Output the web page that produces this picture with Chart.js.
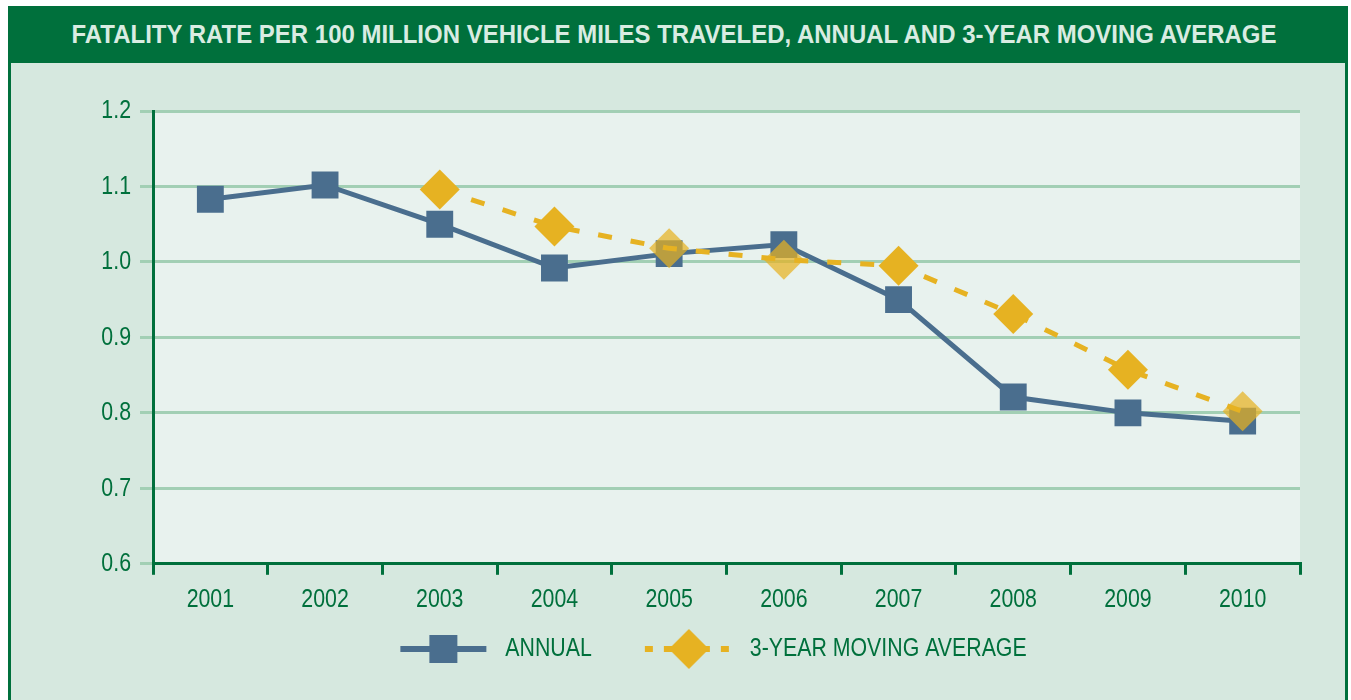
<!DOCTYPE html>
<html>
<head>
<meta charset="utf-8">
<script src="https://cdn.jsdelivr.net/npm/chart.js@4/dist/chart.umd.min.js"></script>
<style>
  body { margin: 0; background: #ffffff; }
  #frame {
    position: absolute; left: 8px; top: 6px; width: 1340px; height: 694px;
    box-sizing: border-box; border-left: 3px solid #00703c; border-right: 3px solid #00703c;
    background: #d6e8df;
  }
  #title {
    height: 57px; background: #00703c; margin: 0 -3px;
    position: relative; overflow: hidden;
  }
  #title span {
    position: absolute; left: 50%; top: 0; line-height: 57px; white-space: nowrap;
    font-family: 'Liberation Sans', Arial, sans-serif; font-weight: bold; font-size: 26.5px;
    color: #d9ece2;
  }
  #wrap { position: relative; width: 1334px; height: 637px; }
</style>
</head>
<body>
<div id="frame">
  <div id="title"><span id="titleText">FATALITY RATE PER 100 MILLION VEHICLE MILES TRAVELED, ANNUAL AND 3-YEAR MOVING AVERAGE</span></div>
  <div id="wrap"><canvas id="myChart"></canvas></div>
</div>
<script>
var years = ['2001', '2002', '2003', '2004', '2005', '2006', '2007', '2008', '2009', '2010'];
var annual = [1.083, 1.102, 1.050, 0.992, 1.011, 1.023, 0.950, 0.821, 0.800, 0.789];
var movingAvg = [null, null, 1.096, 1.047, 1.018, 1.003, 0.995, 0.931, 0.857, 0.802];
var yTicks = [0.6, 0.7, 0.8, 0.9, 1.0, 1.1, 1.2];

var darkGreen = '#00703c';
var blue = '#4a6e8e';
var gold = '#e6b222';
var goldSoft = 'rgba(230,178,34,0.72)';
var font = "'Liberation Sans', Arial, sans-serif";
var squeeze = 0.82; // condensed look for the chart text

// title: squeeze the bold text to the width of the original bar text
var t = document.getElementById('titleText');
var tw = t.getBoundingClientRect().width;
t.style.transform = 'translateX(-50%) scaleX(' + (1205 / tw) + ')';
t.style.marginLeft = '-4px';

// canvas text drawn horizontally condensed
var canvas = document.getElementById('myChart');
var ctx2 = canvas.getContext('2d');
var origFill = ctx2.fillText.bind(ctx2);
var origMeasure = ctx2.measureText.bind(ctx2);
ctx2.fillText = function (txt, x, y) {
    ctx2.save();
    ctx2.translate(x, y);
    ctx2.scale(squeeze, 1);
    origFill(txt, 0, 0);
    ctx2.restore();
};
ctx2.measureText = function (txt) {
    var m = origMeasure(txt);
    return { width: m.width * squeeze, actualBoundingBoxAscent: m.actualBoundingBoxAscent, actualBoundingBoxDescent: m.actualBoundingBoxDescent };
};

// legend swatches: line with marker, with blank room on the left for item spacing
function swatch(kind) {
    var c = document.createElement('canvas');
    c.width = 133; c.height = 44;
    var g = c.getContext('2d');
    var x0 = 41;
    g.lineWidth = 6;
    if (kind === 'annual') {
        g.strokeStyle = blue;
        g.beginPath(); g.moveTo(x0, 22); g.lineTo(x0 + 86, 22); g.stroke();
        g.fillStyle = blue;
        g.fillRect(x0 + 29, 8, 28, 28);
    } else {
        g.strokeStyle = gold;
        g.setLineDash([8, 11]);
        g.beginPath(); g.moveTo(x0, 22); g.lineTo(x0 + 88, 22); g.stroke();
        g.fillStyle = gold;
        g.beginPath();
        g.moveTo(x0 + 44, 2); g.lineTo(x0 + 64, 22); g.lineTo(x0 + 44, 42); g.lineTo(x0 + 24, 22);
        g.closePath(); g.fill();
    }
    return c;
}

var plotBg = {
    id: 'plotBg',
    beforeDraw: function (chart) {
        var a = chart.chartArea, ctx = chart.ctx;
        ctx.save();
        ctx.fillStyle = '#e8f2ee';
        ctx.fillRect(a.left, a.top, a.right - a.left, a.bottom - a.top);
        ctx.restore();
    }
};

var pointColors = movingAvg.map(function (v, i) {
    return (i === 4 || i === 5 || i === 9) ? goldSoft : gold;
});

new Chart(canvas, {
    type: 'line',
    data: {
        labels: years,
        datasets: [
            {
                label: 'ANNUAL',
                data: annual,
                borderColor: blue,
                backgroundColor: blue,
                borderWidth: 5,
                pointStyle: 'rect',
                pointRadius: 19,
                pointHoverRadius: 19,
                pointBorderWidth: 0,
                tension: 0,
                order: 2
            },
            {
                label: '3-YEAR MOVING AVERAGE',
                data: movingAvg,
                borderColor: gold,
                backgroundColor: pointColors,
                pointBackgroundColor: pointColors,
                borderWidth: 5,
                borderDash: [14, 19],
                pointStyle: 'rectRot',
                pointRadius: 20,
                pointHoverRadius: 20,
                pointBorderWidth: 0,
                tension: 0,
                order: 1
            }
        ]
    },
    options: {
        responsive: true,
        maintainAspectRatio: false,
        animation: false,
        layout: { padding: { top: 48, right: 45, left: 75, bottom: 28 } },
        plugins: {
            tooltip: { enabled: false },
            legend: {
                position: 'bottom',
                labels: {
                    usePointStyle: true,
                    pointStyleWidth: 133,
                    padding: 12,
                    color: darkGreen,
                    font: { family: font, size: 26 },
                    generateLabels: function () {
                        return [
                            { text: 'ANNUAL', pointStyle: swatch('annual'), fontColor: darkGreen, lineWidth: 0, datasetIndex: 0 },
                            { text: '3-YEAR MOVING AVERAGE', pointStyle: swatch('avg'), fontColor: darkGreen, lineWidth: 0, datasetIndex: 1 }
                        ];
                    }
                }
            }
        },
        scales: {
            x: {
                offset: true,
                grid: {
                    offset: true,
                    drawOnChartArea: false,
                    color: darkGreen,
                    lineWidth: 3,
                    tickLength: 11
                },
                border: { color: darkGreen, width: 3 },
                ticks: { color: darkGreen, font: { family: font, size: 26 }, padding: 9 }
            },
            y: {
                min: 0.6,
                max: 1.2,
                afterBuildTicks: function (s) {
                    s.ticks = yTicks.map(function (v) { return { value: v }; });
                },
                afterFit: function (s) { s.width = 67; },
                grid: {
                    color: '#a2cfb4',
                    lineWidth: 3,
                    tickLength: 13
                },
                border: { color: darkGreen, width: 3 },
                ticks: {
                    color: darkGreen,
                    font: { family: font, size: 26 },
                    padding: 9,
                    callback: function (v) { return v.toFixed(1); }
                }
            }
        }
    },
    plugins: [plotBg]
});
</script>
</body>
</html>
